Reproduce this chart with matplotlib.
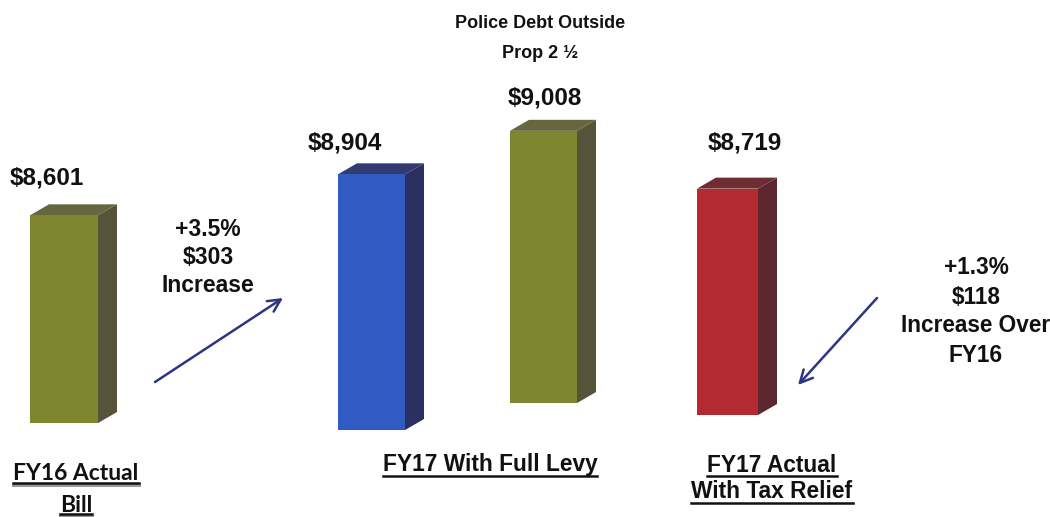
import matplotlib
matplotlib.use("Agg")
import matplotlib.pyplot as plt
from matplotlib.patches import Polygon
from matplotlib.lines import Line2D
from matplotlib.transforms import ScaledTranslation

# ---- data ----
categories = ["FY16 Actual Bill", "FY17 With Full Levy",
              "Police Debt Outside Prop 2 ½", "FY17 Actual With Tax Relief"]
bill_values = [8601, 8904, 9008, 8719]
value_labels = ["$8,601", "$8,904", "$9,008", "$8,719"]
increase_fy17 = ["+3.5%", "$303", "Increase"]
increase_relief = ["+1.3%", "$118", "Increase Over", "FY16"]
police_note = ["Police Debt Outside", "Prop 2 ½"]

# ---- layout / style ----
W, H = 1050, 517
YMIN, YMAX = 6697, 9960
BASE = 7290                                # common value at which the boxes start
bar_left = [30, 338, 510, 697]
bar_width = [68, 67, 67, 61]
floor_shift = [0, 7, -20, -8]              # perspective shift of each box floor (px, + = down)
depth_dx, depth_dy = 19, 11                # pixel depth of the 3-D boxes
front_col = ["#80862f", "#2f5bc3", "#80862f", "#b32a31"]
side_col = ["#55543a", "#2b3060", "#55543a", "#5e2730"]
top_col = ["#66663f", "#323a72", "#66663f", "#6e2c35"]
TXT = "#111111"
ARROW = "#2c3683"

plt.rcParams["font.family"] = ["Liberation Sans", "DejaVu Sans"]

fig = plt.figure(figsize=(W / 100, H / 100), dpi=100)
ax = fig.add_axes([0, 0, 1, 1])
ax.set_xlim(0, W)
ax.set_ylim(YMIN, YMAX)
ax.axis("off")


def fx(px):
    return px / W


def fy(py):
    return 1 - py / H


dy_val = (YMAX - YMIN) * depth_dy / H

for i, v in enumerate(bill_values):
    trans = ax.transData + ScaledTranslation(0, -floor_shift[i] / 100, fig.dpi_scale_trans)
    x0, w = bar_left[i], bar_width[i]
    x1 = x0 + w
    # side face
    ax.add_patch(Polygon([(x1, BASE), (x1 + depth_dx, BASE + dy_val),
                          (x1 + depth_dx, v + dy_val), (x1, v)],
                         closed=True, facecolor=side_col[i], edgecolor="none",
                         zorder=2, transform=trans))
    # top face
    ax.add_patch(Polygon([(x0, v), (x0 + depth_dx, v + dy_val),
                          (x1 + depth_dx, v + dy_val), (x1, v)],
                         closed=True, facecolor=top_col[i], edgecolor="none",
                         zorder=2, transform=trans))
    # front face
    bars = ax.bar(x0, v - BASE, bottom=BASE, width=w, align="edge",
                  color=front_col[i], edgecolor="none", zorder=3)
    for p in bars:
        p.set_transform(trans)

# value labels above the boxes
label_pos = [(47, 178), (345, 143), (545, 98), (745, 143)]
for (px, py), s in zip(label_pos, value_labels):
    fig.text(fx(px), fy(py), s, ha="center", va="center", fontsize=17.5,
             weight="bold", color=TXT)


def stacked(lines, cx, y0, step, size, **kw):
    out = []
    for k, s in enumerate(lines):
        out.append(fig.text(fx(cx), fy(y0 + k * step), s, ha="center", va="center",
                            fontsize=size, color=TXT, **kw))
    return out


stacked(police_note, 540, 24, 29, 13, weight="bold")
stacked(increase_fy17, 208, 230, 28, 16.5, weight="bold")
stacked(increase_relief, 976, 268, 29, 16.3, weight="bold")

# arrows
for head, tail in [((283, 298), (155, 382)), ((798, 385), (877, 298))]:
    ax.annotate("", xy=(fx(head[0]), fy(head[1])), xytext=(fx(tail[0]), fy(tail[1])),
                xycoords="figure fraction", textcoords="figure fraction",
                arrowprops=dict(arrowstyle="->,head_length=0.9,head_width=0.45",
                                color=ARROW, lw=1.8, shrinkA=0, shrinkB=0))

# category captions (underlined)
fy16 = stacked(["FY16 Actual", "Bill"], 76, 474, 31, 16.5,
               family=["Lato", "DejaVu Sans"], weight="bold")
levy = stacked(["FY17 With Full Levy"], 490, 465, 0, 16.4, weight="bold")
relief = stacked(["FY17 Actual", "With Tax Relief"], 772, 465, 27, 16.4, weight="bold")

fig.canvas.draw()
renderer = fig.canvas.get_renderer()


def underline(texts, gap, shadow=False):
    for t in texts:
        bb = t.get_window_extent(renderer)
        y = bb.y0 + gap
        if shadow:
            fig.add_artist(Line2D([bb.x0 / W, bb.x1 / W], [(y - 2.5) / H] * 2,
                                  transform=fig.transFigure, color="#9a9a9a", lw=2.2))
        fig.add_artist(Line2D([bb.x0 / W, bb.x1 / W], [y / H] * 2,
                              transform=fig.transFigure, color=TXT, lw=1.8))


underline(fy16, 2, shadow=True)
underline(levy, 1)
underline(relief, 1)

fig.savefig("out.png", dpi=100, facecolor="white")
